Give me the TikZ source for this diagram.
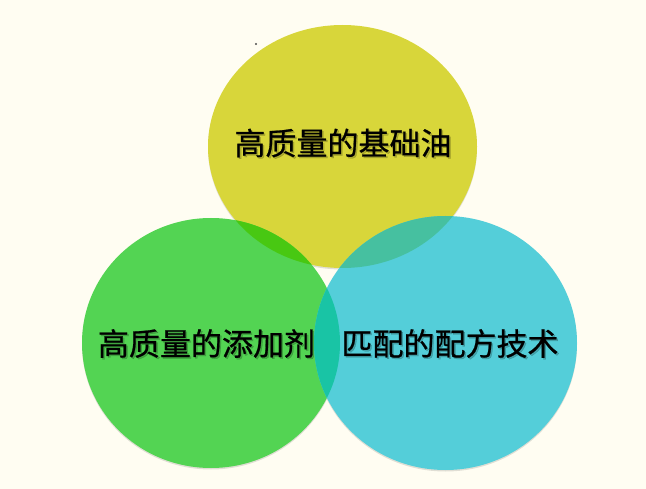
\documentclass[tikz,border=0pt]{standalone}
\usepackage{fontspec}
\newfontfamily\cjk[FakeBold=0.7]{Noto Sans CJK SC}
\definecolor{bg}{HTML}{FFFDF2}
\definecolor{cyel}{HTML}{D8D63A}
\definecolor{cgrn}{HTML}{53D453}
\definecolor{ccya}{HTML}{54CED9}
\definecolor{cyg}{HTML}{48C812}
\definecolor{cyc}{HTML}{46C0A0}
\definecolor{cgc}{HTML}{19C4A5}
\begin{document}
\begin{tikzpicture}[x=1pt,y=-1pt,
  lbl/.style={font=\cjk\fontsize{31}{36}\selectfont, text=black, inner sep=0pt},
  shd/.style={lbl, text=black, opacity=0.2},
  eshadow/.style={fill=black, opacity=0.12}]
\fill[bg] (0,0) rectangle (646,489);
\useasboundingbox (0,0) rectangle (646,489);
\def\topE{(342.5,146.5) ellipse [x radius=134.5, y radius=121.5]}
\def\grnE{(211,343) ellipse [x radius=129, y radius=125]}
\def\cyaE{(445.5,343) ellipse [x radius=131.5, y radius=127]}
% soft shadows
\fill[eshadow] (342.5,148) ellipse [x radius=134.5, y radius=121.5];
\fill[eshadow] (211,344.5) ellipse [x radius=129, y radius=125];
\fill[eshadow] (445.5,344.5) ellipse [x radius=131.5, y radius=127];
% speck
\fill[black!70] (256,44) circle (1.1);
% fills
\fill[cyel] \topE;
\fill[cgrn] \grnE;
\begin{scope}\clip \topE; \fill[cyg] \grnE; \end{scope}
% labels under cyan
\node[shd] at (344.5,144.5) {高质量的基础油};
\node[lbl] (t1) at (343,143) {高质量的基础油};
\node[shd] at (208,345) {高质量的添加剂};
\node[lbl] (t2) at (206.5,343.5) {高质量的添加剂};
\fill[ccya] \cyaE;
\begin{scope}\clip \topE; \fill[cyc] \cyaE; \end{scope}
\begin{scope}\clip \grnE; \fill[cgc] \cyaE; \end{scope}
\node[shd] at (451.5,345) {匹配的配方技术};
\node[lbl] (t3) at (450,343.5) {匹配的配方技术};
\end{tikzpicture}
\end{document}
